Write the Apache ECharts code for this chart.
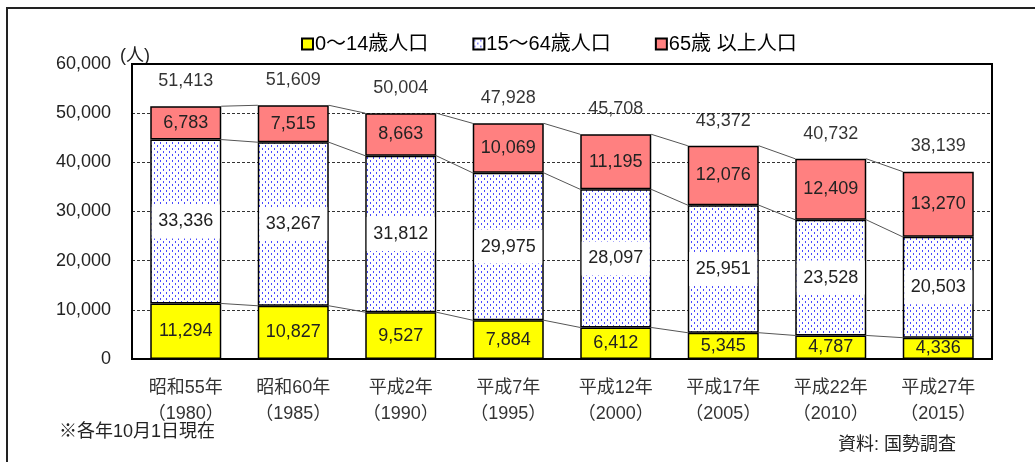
<!DOCTYPE html>
<html>
<head>
<meta charset="utf-8">
<script src="https://cdn.jsdelivr.net/npm/echarts@6/dist/echarts.min.js"></script>
<style>
  html, body { margin: 0; padding: 0; background: #fff; }
  #chart { width: 1035px; height: 462px; }
</style>
</head>
<body>
<div id="chart"></div>
<script>
// data
const eraLabels = ['昭和55年', '昭和60年', '平成2年', '平成7年', '平成12年', '平成17年', '平成22年', '平成27年'];
const yearLabels = ['1980', '1985', '1990', '1995', '2000', '2005', '2010', '2015'];
const young = [11294, 10827, 9527, 7884, 6412, 5345, 4787, 4336];
const working = [33336, 33267, 31812, 29975, 28097, 25951, 23528, 20503];
const elderly = [6783, 7515, 8663, 10069, 11195, 12076, 12409, 13270];
const totals = [51413, 51609, 50004, 47928, 45708, 43372, 40732, 38139];
const seriesNames = ['0～14歳人口', '15～64歳人口', '65歳 以上人口'];

const FONT = '"Liberation Sans", "Noto Sans CJK JP", sans-serif';
const BAR_W = 71;

// 点々パターン
function makeDots() {
    const c = document.createElement('canvas');
    c.width = 6; c.height = 6;
    const ctx = c.getContext('2d');
    ctx.fillStyle = '#fff';
    ctx.fillRect(0, 0, 6, 6);
    ctx.fillStyle = '#4a4aff';
    ctx.fillRect(1, 1, 1, 1);
    ctx.fillRect(1, 2, 1, 1);
    ctx.fillRect(4, 4, 1, 1);
    ctx.fillRect(4, 5, 1, 1);
    return c;
}
const dots = { image: makeDots(), repeat: 'repeat' };

const fmt = v => v.toLocaleString('en-US');

// 棒と棒の間を結ぶ線
function connector(values) {
    return {
        type: 'custom',
        silent: true,
        z: 1,
        data: values.map((v, i) => [i, v]),
        renderItem: function (params, api) {
            const i = api.value(0);
            if (i >= values.length - 1) return;
            const a = api.coord([i, api.value(1)]);
            const b = api.coord([i + 1, values[i + 1]]);
            return {
                type: 'line',
                shape: { x1: a[0] + BAR_W / 2, y1: a[1], x2: b[0] - BAR_W / 2, y2: b[1] },
                style: { stroke: '#555', lineWidth: 1 }
            };
        }
    };
}

const cum1 = young;
const cum2 = young.map((v, i) => v + working[i]);
const cum3 = cum2.map((v, i) => v + elderly[i]);

const chart = echarts.init(document.getElementById('chart'));
const option = {
    animation: false,
    textStyle: { fontFamily: FONT },
    legend: {
        top: 29,
        left: 296,
        itemWidth: 11,
        itemHeight: 11,
        itemGap: 44,
        icon: 'rect',
        textStyle: { fontSize: 20, color: '#000', fontFamily: FONT, padding: [0, 0, 0, -3] },
        data: seriesNames
    },
    grid: { left: 132, right: 43, top: 64, bottom: 103 },
    xAxis: {
        type: 'category',
        data: eraLabels,
        axisLine: { lineStyle: { color: '#000', width: 2 } },
        axisTick: { inside: true, length: 5, lineStyle: { color: '#000' } },
        axisLabel: {
            margin: 16,
            fontSize: 18,
            color: '#333',
            lineHeight: 26,
            formatter: (v, i) => v + '\n（' + yearLabels[i] + '）'
        }
    },
    yAxis: {
        type: 'value',
        min: 0,
        max: 60000,
        interval: 10000,
        axisLine: { show: false },
        axisTick: { show: false },
        axisLabel: { fontSize: 18, color: '#222', margin: 21, formatter: v => fmt(v) },
        splitLine: { lineStyle: { color: '#333', type: [3, 2], width: 1 } }
    },
    series: [
        {
            name: seriesNames[0],
            type: 'bar',
            stack: 'pop',
            barWidth: BAR_W,
            z: 3,
            data: young,
            itemStyle: { color: '#ffff00', borderColor: '#000', borderWidth: 1.5 },
            label: { show: true, position: 'inside', fontSize: 18, color: '#222', formatter: p => fmt(p.value) }
        },
        {
            name: seriesNames[1],
            type: 'bar',
            stack: 'pop',
            barWidth: BAR_W,
            z: 3,
            data: working,
            itemStyle: { color: dots, borderColor: '#000', borderWidth: 1.5 },
            label: {
                show: true, position: 'inside', fontSize: 18, color: '#222',
                backgroundColor: '#fff', width: BAR_W - 3, height: 34, lineHeight: 34, align: 'center',
                formatter: p => fmt(p.value)
            }
        },
        {
            name: seriesNames[2],
            type: 'bar',
            stack: 'pop',
            barWidth: BAR_W,
            z: 3,
            data: elderly,
            itemStyle: { color: '#ff8080', borderColor: '#000', borderWidth: 1.5 },
            label: { show: true, position: 'inside', fontSize: 18, color: '#222', formatter: p => fmt(p.value) }
        },
        {
            type: 'scatter',
            symbolSize: 0,
            silent: true,
            data: totals,
            label: { show: true, position: 'top', distance: 16, fontSize: 18, color: '#000', formatter: p => fmt(p.value) }
        },
        connector(cum1),
        connector(cum2),
        connector(cum3)
    ],
    graphic: [
        { type: 'rect', shape: { x: 7, y: 8, width: 1040, height: 470 }, style: { fill: null, stroke: '#222', lineWidth: 2 }, silent: true },
        { type: 'rect', shape: { x: 132, y: 64, width: 860, height: 295 }, style: { fill: null, stroke: '#000', lineWidth: 2 }, silent: true, z: 10 },
        { type: 'text', left: 120, top: 47, style: { text: '(人)', fontSize: 18, fill: '#222', fontFamily: FONT } },
        { type: 'text', left: 59, top: 423, style: { text: '※各年10月1日現在', fontSize: 18, fill: '#222', fontFamily: FONT } },
        { type: 'text', left: 838, top: 436, style: { text: '資料: 国勢調査', fontSize: 18, fill: '#222', fontFamily: FONT } }
    ]
};
chart.setOption(option);
</script>
</body>
</html>
